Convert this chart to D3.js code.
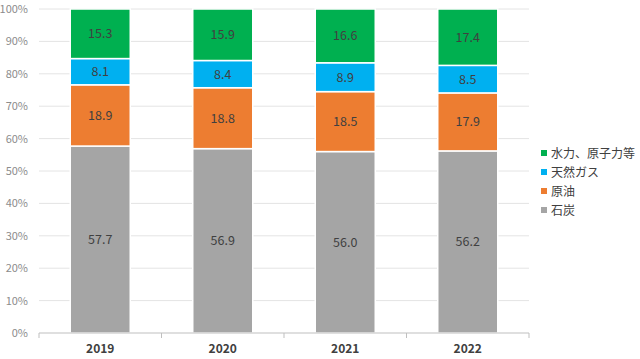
<!DOCTYPE html>
<html>
<head>
<meta charset="utf-8">
<script src="https://cdn.jsdelivr.net/npm/d3@7"></script>
<style>
  body { margin: 0; background: #fff; }
  text { font-family: "Noto Sans CJK JP", "Noto Sans", sans-serif; }
</style>
</head>
<body>
<div id="chart"></div>
<script>
var years = ['2019', '2020', '2021', '2022'];
var seriesNames = ['石炭', '原油', '天然ガス', '水力、原子力等'];
var coal = [57.7, 56.9, 56.0, 56.2];
var oil = [18.9, 18.8, 18.5, 17.9];
var gas = [8.1, 8.4, 8.9, 8.5];
var other = [15.3, 15.9, 16.6, 17.4];
var yTicks = [0, 10, 20, 30, 40, 50, 60, 70, 80, 90, 100];
var colors = ['#A5A5A5', '#ED7D31', '#00B0F0', '#00B050'];

var width = 640, height = 359;
var margin = {left: 39, right: 111, top: 9, bottom: 26};

var svg = d3.select('#chart').append('svg')
  .attr('width', width)
  .attr('height', height);

var x = d3.scaleBand()
  .domain(years)
  .range([margin.left, width - margin.right]);

var y = d3.scaleLinear()
  .domain([0, 100])
  .range([height - margin.bottom, margin.top]);

// gridlines
svg.append('g').selectAll('line')
  .data(yTicks.slice(1))
  .enter().append('line')
  .attr('x1', margin.left).attr('x2', width - margin.right)
  .attr('y1', d => y(d)).attr('y2', d => y(d))
  .attr('stroke', '#e4e4e4').attr('stroke-width', 1);

// y labels
svg.append('g').selectAll('text')
  .data(yTicks)
  .enter().append('text')
  .attr('x', 28)
  .attr('y', d => y(d) + 4)
  .attr('text-anchor', 'end')
  .attr('font-size', 11)
  .attr('fill', '#8c8c8c')
  .text(d => d + '%');

var table = years.map((yr, i) => ({year: yr, s0: coal[i], s1: oil[i], s2: gas[i], s3: other[i]}));
var stack = d3.stack().keys(['s0', 's1', 's2', 's3']);
var layers = stack(table);

var barW = 60;
var g = svg.append('g');
layers.forEach(function(layer, k) {
  g.selectAll('.r' + k)
    .data(layer)
    .enter().append('rect')
    .attr('x', d => x(d.data.year) + x.bandwidth() / 2 - barW / 2)
    .attr('width', barW)
    .attr('y', d => y(d[1]))
    .attr('height', d => y(d[0]) - y(d[1]))
    .attr('fill', colors[k])
    .attr('stroke', '#fff')
    .attr('stroke-width', 1.5);

  g.selectAll('.t' + k)
    .data(layer)
    .enter().append('text')
    .attr('x', d => x(d.data.year) + x.bandwidth() / 2)
    .attr('y', d => (y(d[0]) + y(d[1])) / 2 + 4.5)
    .attr('text-anchor', 'middle')
    .attr('font-size', 12.5)
    .attr('fill', '#404040')
    .text(d => (d[1] - d[0]).toFixed(1));
});

// x axis
var axisY = y(0);
svg.append('line')
  .attr('x1', margin.left).attr('x2', width - margin.right)
  .attr('y1', axisY).attr('y2', axisY)
  .attr('stroke', '#bfbfbf');
var bounds = years.map(d => x(d)).concat([x(years[years.length - 1]) + x.bandwidth()]);
svg.append('g').selectAll('line')
  .data(bounds)
  .enter().append('line')
  .attr('x1', d => d).attr('x2', d => d)
  .attr('y1', axisY).attr('y2', axisY + 5)
  .attr('stroke', '#bfbfbf');
svg.append('g').selectAll('text')
  .data(years)
  .enter().append('text')
  .attr('x', d => x(d) + x.bandwidth() / 2)
  .attr('y', 353)
  .attr('text-anchor', 'middle')
  .attr('font-size', 12)
  .attr('font-weight', 'bold')
  .attr('fill', '#404040')
  .text(d => d);

// legend
var legendOrder = [3, 2, 1, 0];
var lg = svg.append('g').selectAll('g')
  .data(legendOrder)
  .enter().append('g')
  .attr('transform', (d, i) => 'translate(541,' + (153 + i * 19) + ')');
lg.append('rect')
  .attr('x', 0).attr('y', -3)
  .attr('width', 6).attr('height', 6)
  .attr('fill', d => colors[d]);
lg.append('text')
  .attr('x', 10).attr('y', 4.5)
  .attr('font-size', 12)
  .attr('fill', '#404040')
  .text(d => seriesNames[d]);
</script>
</body>
</html>
